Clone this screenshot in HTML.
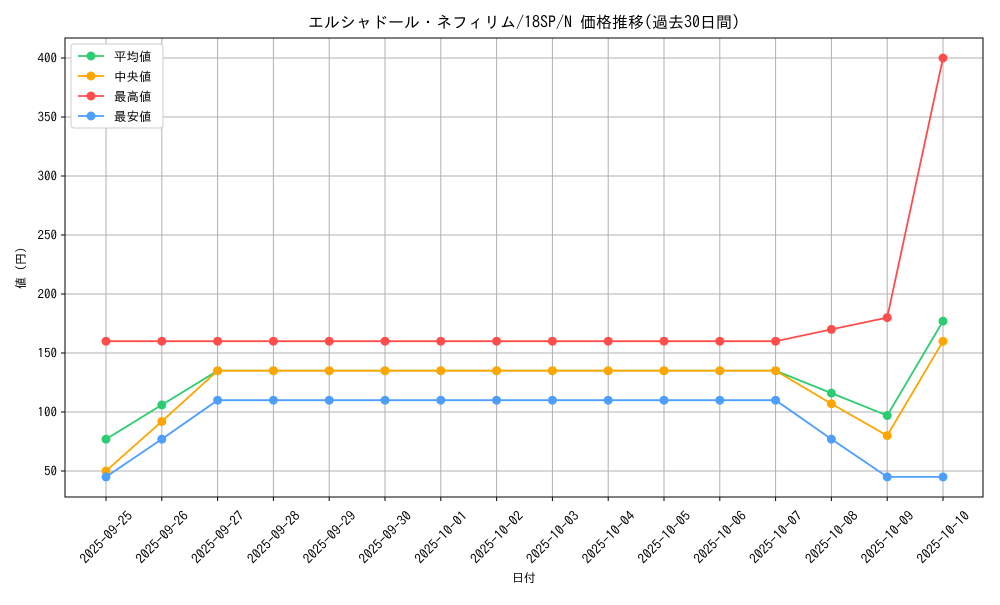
<!DOCTYPE html>
<html><head><meta charset="utf-8">
<style>
body{margin:0;background:#fff;}
svg text{font-family:"IPAGothic","Noto Sans CJK JP",sans-serif;fill:#000;}
</style></head>
<body>
<svg id="chart" width="1000" height="600" xmlns="http://www.w3.org/2000/svg">
<rect width="1000" height="600" fill="#fff"/>
<text x="524" y="28" font-size="16" text-anchor="middle">エルシャドール・ネフィリム/18SP/N 価格推移(過去30日間)</text>
<g id="grid"></g>
<g id="axes"></g>
<g id="series"></g>
<rect x="65" y="38" width="918" height="459" fill="none" stroke="#000" stroke-width="1"/>
<text x="524" y="582" font-size="12" text-anchor="middle">日付</text>
<text x="0" y="0" font-size="12" text-anchor="middle" transform="translate(25,268) rotate(-90)">値 (円)</text>
<g id="legend"></g>
</svg>
<script>
const categories=["2025-09-25","2025-09-26","2025-09-27","2025-09-28","2025-09-29","2025-09-30","2025-10-01","2025-10-02","2025-10-03","2025-10-04","2025-10-05","2025-10-06","2025-10-07","2025-10-08","2025-10-09","2025-10-10"];
const meanValues=[77,106,135,135,135,135,135,135,135,135,135,135,135,116,97,177];
const medianValues=[50,92,135,135,135,135,135,135,135,135,135,135,135,107,80,160];
const maxValues=[160,160,160,160,160,160,160,160,160,160,160,160,160,170,180,400];
const minValues=[45,77,110,110,110,110,110,110,110,110,110,110,110,77,45,45];
const yTicks=[50,100,150,200,250,300,350,400];
const seriesNames=["平均値","中央値","最高値","最安値"];
const NS="http://www.w3.org/2000/svg";
function xs(i){return 106+i*(943-106)/(categories.length-1);}
function ys(v){return 471-(v-50)*(471-58)/350;}
function mk(tag,attrs,parent){const e=document.createElementNS(NS,tag);for(const k in attrs)e.setAttribute(k,attrs[k]);parent.appendChild(e);return e;}
const grid=document.getElementById('grid'),axes=document.getElementById('axes'),ser=document.getElementById('series'),leg=document.getElementById('legend');
categories.forEach((c,i)=>{
  const x=xs(i);
  const gl=mk('line',{x1:x,x2:x,y1:38,y2:497,stroke:'#b0b0b0','stroke-width':1},grid);
  
  
  mk('line',{x1:x,x2:x,y1:497,y2:501,stroke:'#000'},axes);
  const t=mk('text',{x:0,y:0,'font-size':13.5,'text-anchor':'middle','dominant-baseline':'central',transform:`translate(${x+0},${537}) rotate(-45)`},axes);
  t.textContent=c;
  
  
});
yTicks.forEach(v=>{
  const y=ys(v);
  const gl=mk('line',{x1:65,x2:983,y1:y,y2:y,stroke:'#b0b0b0','stroke-width':1},grid);
  
  
  mk('line',{x1:61,x2:65,y1:y,y2:y,stroke:'#000'},axes);
  const t=mk('text',{x:57,y:y+4.5,'font-size':13,'text-anchor':'end'},axes);
  t.textContent=v;
  
  
});
const allSeries=[[meanValues,'#2ecc71','mean'],[medianValues,'#ffa500','median'],[maxValues,'#ff4d4d','max'],[minValues,'#4d9eff','min']];
allSeries.forEach(([vals,col,nm])=>{
  const g=mk('g',{},ser);
  
  
  const pl=mk('polyline',{points:vals.map((v,i)=>xs(i)+','+ys(v)).join(' '),fill:'none',stroke:col,'stroke-width':1.8},g);
  
  
  vals.forEach((v,i)=>{
    const c=mk('circle',{cx:xs(i),cy:ys(v),r:4.5,fill:col},g);
    
    
  });
});
mk('rect',{x:71,y:44,width:92,height:84,rx:3,fill:'#fff',stroke:'#ccc'},leg);
allSeries.forEach(([vals,col,nm],k)=>{
  const y=56+k*20;
  const g=mk('g',{},leg);
  
  
  mk('line',{x1:78,x2:104,y1:y,y2:y,stroke:col,'stroke-width':1.8},g);
  mk('circle',{cx:91,cy:y,r:4.5,fill:col},g);
  const t=mk('text',{x:114,y:y+5,'font-size':12.5},g);
  t.textContent=seriesNames[k];
});
</script>
</body></html>
